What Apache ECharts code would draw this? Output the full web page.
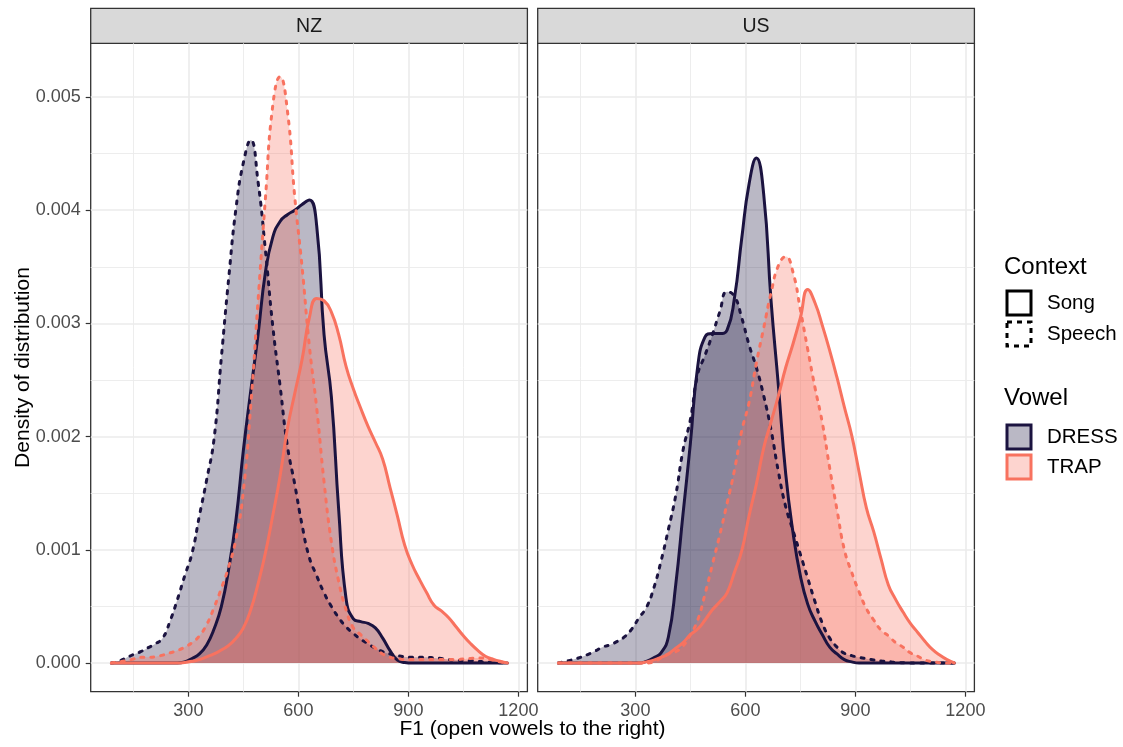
<!DOCTYPE html>
<html>
<head>
<meta charset="utf-8">
<script src="https://cdn.jsdelivr.net/npm/echarts@6/dist/echarts.min.js"></script>
<style>
  html, body { margin: 0; padding: 0; background: #ffffff; }
  #chart { width: 1123px; height: 747px; }
</style>
</head>
<body>
<div id="chart"></div>
<script>
// F1 values (Hz) at which every density curve is evaluated
const f1Grid = [90,110,130,150,170,190,210,230,250,270,290,310,330,350,370,390,410,430,450,470,
  490,510,530,550,570,590,610,630,650,670,690,710,730,750,770,790,810,830,850,870,
  890,910,930,950,970,990,1010,1030,1050,1070,1090,1110,1130,1150,1170];

// Density of F1, in thousandths (x 0.001)
const nzDressSong = [0,0,0,0,0,0,0,0,0,0, 0.01,0.04,0.08,0.16,0.3,0.5,0.83,1.27,1.88,2.4,
  2.9,3.45,3.76,3.9,3.96,4.0,4.05,4.09,3.86,2.9, 2.35,1.35,0.57,0.39,0.365,0.35,0.31,0.22,0.11,0.025,
  0.005,0,0,0,0,0,0,0,0,0, 0,0,0,0,0];
const nzDressSpeech = [0,0.015,0.045,0.075,0.1,0.135,0.17,0.22,0.37,0.56, 0.77,0.97,1.3,1.62,1.98,2.7,3.4,4.02,4.42,4.62,
  4.25,3.65,2.98,2.45,1.92,1.58,1.22,0.93,0.77,0.62, 0.5,0.4,0.32,0.26,0.21,0.17,0.13,0.1,0.08,0.065,
  0.055,0.05,0.05,0.05,0.045,0.04,0.03,0.025,0.02,0.02, 0.015,0.01,0.005,0.002,0];
const nzTrapSong = [0,0,0,0,0,0,0,0,0,0, 0.005,0.015,0.03,0.055,0.08,0.115,0.155,0.22,0.31,0.47,
  0.7,0.97,1.3,1.65,2.07,2.38,2.68,3.05,3.22,3.2, 3.1,2.9,2.62,2.42,2.25,2.09,1.95,1.8,1.55,1.3,
  1.04,0.87,0.74,0.62,0.51,0.46,0.4,0.32,0.24,0.17, 0.11,0.06,0.035,0.015,0];
const nzTrapSpeech = [0,0.01,0.02,0.035,0.05,0.05,0.055,0.07,0.09,0.11, 0.14,0.18,0.24,0.34,0.49,0.66,0.85,1.1,1.52,2.27,
  3.2,4.1,4.92,5.18,4.88,4.12,3.5,2.8,2.25,1.6, 1.07,0.72,0.47,0.31,0.25,0.19,0.13,0.08,0.05,0.04,
  0.03,0.03,0.03,0.03,0.03,0.03,0.03,0.03,0.035,0.04, 0.045,0.04,0.025,0.01,0];
const usDressSong = [0,0,0,0,0,0,0,0,0,0, 0,0,0.015,0.045,0.09,0.23,0.69,1.32,1.94,2.62,
  2.88,2.91,2.91,2.94,3.22,3.75,4.23,4.46,4.14,3.2, 2.45,1.67,1.15,0.77,0.52,0.37,0.25,0.14,0.08,0.03,
  0.01,0,0,0,0,0,0,0,0,0, 0,0,0,0,0];
const usDressSpeech = [0,0.015,0.03,0.05,0.075,0.105,0.14,0.16,0.19,0.23, 0.3,0.4,0.49,0.66,0.9,1.18,1.48,1.88,2.15,2.55,
  2.72,2.9,3.1,3.28,3.24,3.05,2.81,2.61,2.36,2.06, 1.69,1.38,1.17,0.96,0.75,0.54,0.35,0.22,0.14,0.086,
  0.065,0.05,0.038,0.027,0.018,0.012,0.006,0.002,0,0, 0,0,0,0,0];
const usTrapSong = [0,0,0,0,0,0,0,0,0,0, 0,0,0.01,0.025,0.05,0.08,0.13,0.18,0.25,0.3,
  0.38,0.47,0.54,0.62,0.8,0.99,1.3,1.58,1.9,2.13, 2.36,2.61,2.82,3.05,3.3,3.18,2.98,2.76,2.52,2.26,
  2.01,1.69,1.37,1.16,0.92,0.69,0.56,0.45,0.35,0.27, 0.19,0.12,0.07,0.03,0];
const usTrapSpeech = [0,0,0,0,0,0,0,0,0,0, 0,0,0,0.01,0.045,0.08,0.1,0.15,0.25,0.38,
  0.61,0.87,1.13,1.41,1.7,2.05,2.3,2.65,2.96,3.27, 3.51,3.59,3.45,3.12,2.77,2.43,2.12,1.72,1.35,1.0,
  0.8,0.63,0.48,0.38,0.29,0.24,0.18,0.14,0.09,0.06, 0.027,0.012,0.003,0,0];

const regions = ['NZ', 'US'];
const vowels = ['DRESS', 'TRAP'];
const contexts = ['Song', 'Speech'];

// Axis breaks
const xTicks = [300, 600, 900, 1200];
const xMinorTicks = [150, 450, 750, 1050];
const yTicks = [0, 1, 2, 3, 4, 5];            // thousandths
const yMinorTicks = [0.5, 1.5, 2.5, 3.5, 4.5];

const curves = {
  NZ: { DRESS: { Song: nzDressSong, Speech: nzDressSpeech }, TRAP: { Song: nzTrapSong, Speech: nzTrapSpeech } },
  US: { DRESS: { Song: usDressSong, Speech: usDressSpeech }, TRAP: { Song: usTrapSong, Speech: usTrapSpeech } }
};

// Styling
const vowelColor = { DRESS: '#1b1340', TRAP: '#f8725f' };
const contextDash = { Song: 'solid', Speech: [3, 7] };
const FONT = '"Liberation Sans", Arial, Helvetica, sans-serif';

// Panel layout (pixels)
const panelLeft = [90.7, 537.7];
const panelTop = 43.3;
const panelWidth = 436.7;
const panelHeight = 648.4;
const stripTop = 8.3;

// Scale limits (data range plus ggplot-style expansion)
const xLimits = [33.6, 1224.6];
const yLimits = [-0.2535, 5.474];

const grids = regions.map((r, i) => ({
  left: panelLeft[i], top: panelTop, width: panelWidth, height: panelHeight,
  show: true, borderColor: '#333333', borderWidth: 1.3, backgroundColor: '#ffffff',
  containLabel: false, outerBoundsMode: 'none'
}));

const xAxes = [];
const yAxes = [];
regions.forEach((r, i) => {
  xAxes.push({
    type: 'value', gridIndex: i, min: xLimits[0], max: xLimits[1], position: 'bottom',
    axisLine: { show: false, onZero: false },
    axisTick: { show: true, length: 5, customValues: xTicks, lineStyle: { color: '#333333', width: 1.2 } },
    axisLabel: {
      show: true, customValues: xTicks, margin: 10, color: '#4d4d4d', fontSize: 18, fontFamily: FONT,
      formatter: v => String(v)
    },
    splitLine: { show: true, lineStyle: { color: '#ebebeb', width: 1.6 } }
  });
  xAxes.push({
    type: 'value', gridIndex: i, min: xLimits[0], max: xLimits[1], position: 'bottom',
    axisLine: { show: false, onZero: false },
    axisTick: { show: false, customValues: xMinorTicks },
    axisLabel: { show: false, customValues: xMinorTicks },
    splitLine: { show: true, lineStyle: { color: '#ebebeb', width: 0.9 } }
  });
  yAxes.push({
    type: 'value', gridIndex: i, min: yLimits[0], max: yLimits[1], position: 'left',
    axisLine: { show: false, onZero: false },
    axisTick: { show: i === 0, length: 5, customValues: yTicks, lineStyle: { color: '#333333', width: 1.2 } },
    axisLabel: {
      show: i === 0, customValues: yTicks, margin: 10, color: '#4d4d4d', fontSize: 18, fontFamily: FONT,
      formatter: v => (v / 1000).toFixed(3)
    },
    splitLine: { show: true, lineStyle: { color: '#ebebeb', width: 1.6 } }
  });
  yAxes.push({
    type: 'value', gridIndex: i, min: yLimits[0], max: yLimits[1], position: 'left',
    axisLine: { show: false, onZero: false },
    axisTick: { show: false, customValues: yMinorTicks },
    axisLabel: { show: false, customValues: yMinorTicks },
    splitLine: { show: true, lineStyle: { color: '#ebebeb', width: 0.9 } }
  });
});

// Densities: DRESS before TRAP, Song before Speech, within each panel
const series = [];
regions.forEach((r, i) => {
  vowels.forEach(v => {
    contexts.forEach(c => {
      const vals = curves[r][v][c];
      series.push({
        name: r + ' ' + v + ' ' + c,
        type: 'line',
        xAxisIndex: i * 2, yAxisIndex: i * 2,
        data: f1Grid.map((x, k) => [x, vals[k]]),
        showSymbol: false, symbol: 'none',
        smooth: 0.5,
        silent: true,
        lineStyle: { color: vowelColor[v], width: 3, type: contextDash[c], cap: 'round', join: 'round' },
        areaStyle: { color: vowelColor[v], opacity: 0.3 }
      });
    });
  });
});

// Facet strips, axis titles and legend
const graphic = [];
regions.forEach((r, i) => {
  graphic.push({
    type: 'rect', silent: true,
    shape: { x: panelLeft[i], y: stripTop, width: panelWidth, height: panelTop - stripTop },
    style: { fill: '#d9d9d9', stroke: '#333333', lineWidth: 1.3 }
  });
  graphic.push({
    type: 'text', silent: true,
    style: {
      text: r, x: panelLeft[i] + panelWidth / 2, y: (stripTop + panelTop) / 2 + 0.5,
      font: '19.5px ' + FONT, fill: '#1a1a1a',
      align: 'center', verticalAlign: 'middle', textAlign: 'center', textVerticalAlign: 'middle'
    }
  });
});

graphic.push({
  type: 'text', silent: true,
  style: {
    text: 'F1 (open vowels to the right)', x: (panelLeft[0] + panelLeft[1] + panelWidth) / 2, y: 729,
    font: '21px ' + FONT, fill: '#000000',
    align: 'center', verticalAlign: 'middle', textAlign: 'center', textVerticalAlign: 'middle'
  }
});
graphic.push({
  type: 'text', silent: true, x: 23, y: panelTop + panelHeight / 2, rotation: Math.PI / 2,
  style: {
    text: 'Density of distribution', x: 0, y: 0,
    font: '21px ' + FONT, fill: '#000000',
    align: 'center', verticalAlign: 'middle', textAlign: 'center', textVerticalAlign: 'middle'
  }
});

function legendTitle(text, y) {
  graphic.push({
    type: 'text', silent: true,
    style: { text, x: 1004, y, font: '24px ' + FONT, fill: '#000000',
      align: 'left', verticalAlign: 'middle', textAlign: 'left', textVerticalAlign: 'middle' }
  });
}
function legendLabel(text, y) {
  graphic.push({
    type: 'text', silent: true,
    style: { text, x: 1047, y, font: '20.5px ' + FONT, fill: '#000000',
      align: 'left', verticalAlign: 'middle', textAlign: 'left', textVerticalAlign: 'middle' }
  });
}
function legendKey(y, stroke, fill, dash) {
  graphic.push({
    type: 'rect', silent: true,
    shape: { x: 1007, y: y - 12, width: 24, height: 24 },
    style: { fill, stroke, lineWidth: 3, lineDash: dash }
  });
}

legendTitle('Context', 267);
const contextKeyY = [303, 334];
contexts.forEach((c, k) => {
  legendKey(contextKeyY[k], '#000000', '#ffffff', c === 'Speech' ? [5, 5] : null);
  legendLabel(c, contextKeyY[k]);
});
legendTitle('Vowel', 398);
const vowelKeyY = [437, 467];
vowels.forEach((v, k) => {
  const col = echarts.color.modifyAlpha(vowelColor[v], 0.3);
  legendKey(vowelKeyY[k], vowelColor[v], col, null);
  legendLabel(v, vowelKeyY[k]);
});

const chart = echarts.init(document.getElementById('chart'), null, { renderer: 'canvas' });
chart.setOption({
  animation: false,
  backgroundColor: '#ffffff',
  textStyle: { fontFamily: FONT },
  grid: grids,
  xAxis: xAxes,
  yAxis: yAxes,
  series,
  graphic
});
</script>
</body>
</html>
